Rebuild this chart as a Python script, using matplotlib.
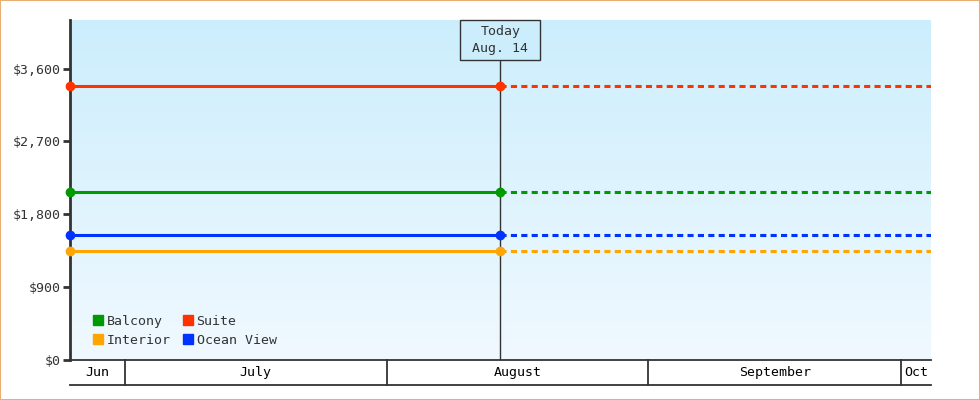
import matplotlib
matplotlib.use("Agg")
import matplotlib.pyplot as plt
import matplotlib.dates as mdates
import matplotlib.transforms as mtrans
from matplotlib.colors import LinearSegmentedColormap
from matplotlib.lines import Line2D
from matplotlib.patches import Rectangle
import numpy as np

# ---------------- data ----------------
start_date = "2024-06-24T12:00"
today_date = "2024-08-14T12:00"
end_date = "2024-10-04T12:00"
today_label = "Today\nAug. 14"

categories = ["Balcony", "Suite", "Interior", "Ocean View"]
prices = [2080, 3380, 1345, 1540]
colors = ["#009900", "#FF3300", "#FFA500", "#0033FF"]

y_ticks = [0, 900, 1800, 2700, 3600]
y_max = 4200

month_labels = ["Jun", "July", "August", "September", "Oct"]
month_edges = ["2024-06-24T12:00", "2024-07-01", "2024-08-01", "2024-09-01",
               "2024-10-01", "2024-10-04T12:00"]

# ---------------- figure ----------------
plt.rcParams["font.family"] = ["DejaVu Sans Mono"]
FS = 9.5
DARK = "#333333"

fig = plt.figure(figsize=(9.8, 4.0), dpi=100)
fig.patch.set_facecolor("white")
fig.add_artist(Rectangle((0, 0), 1, 1, transform=fig.transFigure, fill=False,
                         edgecolor="#E8B070", linewidth=1.5))

ax = fig.add_axes([70 / 980, 40 / 400, 861 / 980, 340 / 400])

d = lambda s: mdates.date2num(np.datetime64(s))
x0, xt, x1 = d(start_date), d(today_date), d(end_date)

# gradient background
cmap = LinearSegmentedColormap.from_list("bg", ["#F0F9FF", "#CCEEFC"])
grad = np.linspace(0, 1, 256).reshape(-1, 1)
ax.imshow(grad, extent=[x0, x1, 0, y_max], aspect="auto", cmap=cmap,
          origin="lower", zorder=0, interpolation="bilinear")

ax.set_xlim(x0, x1)
ax.set_ylim(0, y_max)

# series
for name, p, c in zip(categories, prices, colors):
    ax.plot([x0, xt], [p, p], color=c, lw=2.2, solid_capstyle="butt", zorder=3)
    ax.plot([xt, x1], [p, p], color=c, lw=2.2, ls=(0, (2.0, 1.4)), zorder=3)
    ax.plot([x0, xt], [p, p], ls="none", marker="o", ms=6, color=c,
            clip_on=False, zorder=5)

# spines / ticks
for s in ["top", "right"]:
    ax.spines[s].set_visible(False)
ax.spines["left"].set_color(DARK)
ax.spines["left"].set_linewidth(2)
ax.spines["bottom"].set_color(DARK)
ax.spines["bottom"].set_linewidth(1.3)
ax.set_xticks([])
ax.set_yticks(y_ticks)
ax.set_yticklabels([f"${v:,}" for v in y_ticks])
ax.tick_params(axis="y", length=5, width=2, color=DARK, labelsize=FS,
               labelcolor=DARK, pad=2)

# today marker + box
box_bottom = 0.882
ax.axvline(xt, ymin=0, ymax=box_bottom, color=DARK, lw=1, zorder=2)
blend = mtrans.blended_transform_factory(ax.transData, ax.transAxes)
days_per_px = (x1 - x0) / 861
half_w = 40 * days_per_px
ax.add_patch(Rectangle((xt - half_w, box_bottom), 2 * half_w, 1 - box_bottom,
                       transform=blend, facecolor="#CCEEFC", edgecolor=DARK,
                       lw=1, zorder=6, clip_on=False))
ax.text(xt, box_bottom + (1 - box_bottom) / 2, today_label, transform=blend,
        ha="center", va="center", fontsize=FS, color=DARK, linespacing=1.35,
        zorder=7)

# month band
band = -25 / 340
ax.plot([x0, x1], [band, band], transform=blend, color=DARK, lw=1.3, clip_on=False)
edges = [d(e) for e in month_edges]
for e in edges[1:-1]:
    ax.plot([e, e], [0, band], transform=blend, color=DARK, lw=1.3, clip_on=False)
for lab, a, b in zip(month_labels, edges[:-1], edges[1:]):
    ax.text((a + b) / 2, band / 2, lab, transform=blend, ha="center", va="center",
            fontsize=FS, color="black")

# legend (column-first order)
order = [0, 2, 1, 3]
handles = [Line2D([], [], ls="none", marker="s", ms=7.5, color=colors[i]) for i in order]
labels = [categories[i] for i in order]
ax.legend(handles, labels, ncol=2, loc="lower left", bbox_to_anchor=(23 / 861, 13.5 / 340),
          frameon=False, fontsize=FS, handlelength=0.8, handletextpad=0.25,
          columnspacing=0.9, labelspacing=0.45, borderpad=0, borderaxespad=0,
          labelcolor=DARK)

fig.savefig("out.png", dpi=100)
